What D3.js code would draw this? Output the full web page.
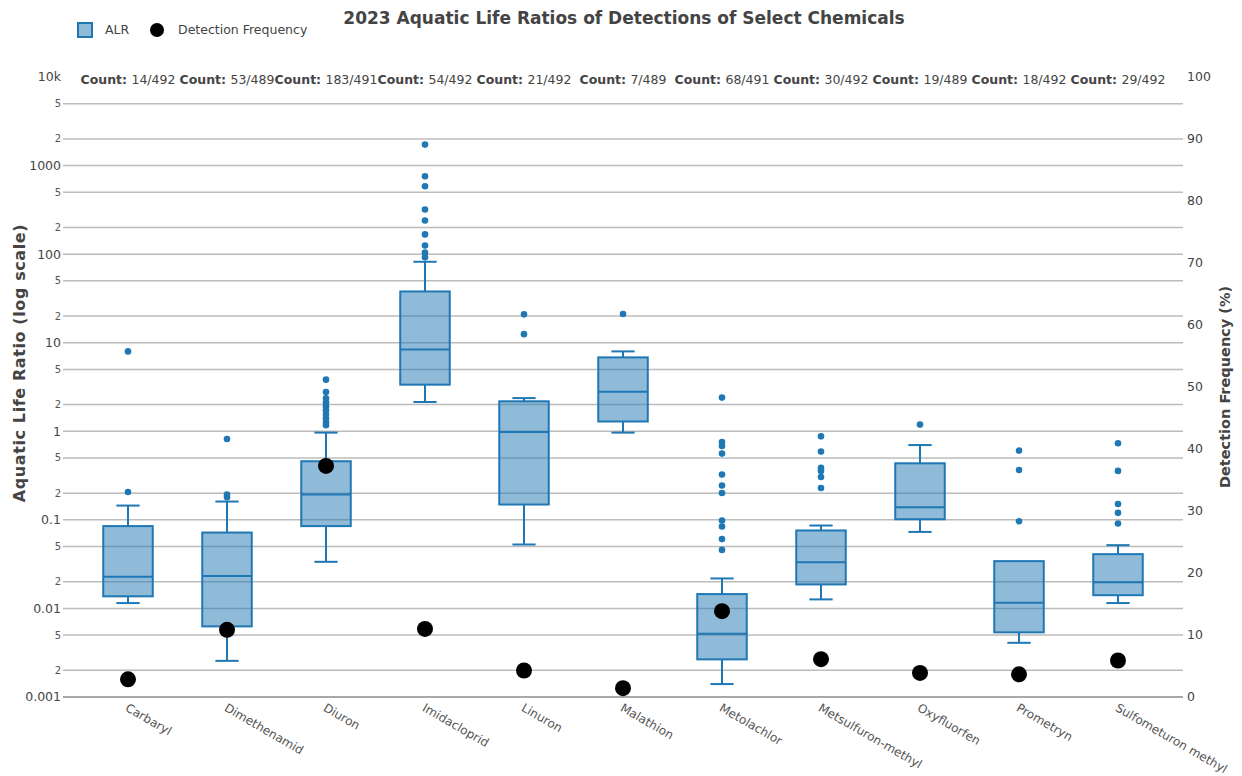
<!DOCTYPE html>
<html>
<head>
<meta charset="utf-8">
<script src="https://cdn.jsdelivr.net/npm/d3@7"></script>
<style>
  body { margin: 0; background: #fff; }
  svg { font-family: "DejaVu Sans", Verdana, sans-serif; }
</style>
</head>
<body>
<div id="chart"></div>
<script>
// values
const categories = ['Carbaryl', 'Dimethenamid', 'Diuron', 'Imidacloprid', 'Linuron', 'Malathion',
  'Metolachlor', 'Metsulfuron-methyl', 'Oxyfluorfen', 'Prometryn', 'Sulfometuron methyl'];
const countLabels = ['14/492', '53/489', '183/491', '54/492', '21/492', '7/489',
  '68/491', '30/492', '19/489', '18/492', '29/492'];
const detectionFreq = [2.85, 10.84, 37.27, 10.98, 4.27, 1.43, 13.85, 6.10, 3.89, 3.66, 5.89];

const lowerWhisker = [0.0115, 0.00256, 0.0336, 2.14, 0.0527, 0.966, 0.0014, 0.01265, 0.0731, 0.00409, 0.0115];
const q1 = [0.0137, 0.00627, 0.085, 3.36, 0.149, 1.29, 0.00266, 0.01866, 0.1016, 0.00537, 0.0141];
const median = [0.0228, 0.0232, 0.193, 8.4, 0.982, 2.80, 0.00518, 0.0333, 0.139, 0.01156, 0.0198];
const q3 = [0.085, 0.0719, 0.459, 37.9, 2.18, 6.83, 0.01452, 0.0759, 0.435, 0.0342, 0.041];
const upperWhisker = [0.145, 0.161, 0.966, 82, 2.37, 7.98, 0.0218, 0.0863, 0.699, 0.0342, 0.0518];
const outliers = [
  [0.2066, 7.98],
  [0.18, 0.193, 0.818],
  [1.17, 1.26, 1.40, 1.55, 1.73, 1.91, 2.12, 2.36, 2.77, 3.83],
  [92, 104, 125, 167, 240, 319, 584, 757, 1726],
  [12.5, 20.9],
  [21.1],
  [0.0458, 0.0606, 0.0841, 0.0984, 0.201, 0.244, 0.325, 0.560, 0.682, 0.757, 2.40],
  [0.229, 0.305, 0.356, 0.386, 0.590, 0.877],
  [1.19],
  [0.0966, 0.366, 0.605],
  [0.091, 0.120, 0.151, 0.357, 0.733]
];

const majorTicks = [0.001, 0.01, 0.1, 1, 10, 100, 1000, 10000];
const majorLabels = ['0.001', '0.01', '0.1', '1', '10', '100', '1000', '10k'];
const minorSteps = [2, 5];
const rightTicks = [0, 10, 20, 30, 40, 50, 60, 70, 80, 90, 100];

const width = 1242, height = 776;
const plot = { left: 63, right: 1183, top: 77, bottom: 697 };
const blue = '#1f77b4';

const svg = d3.select('#chart').append('svg')
  .attr('width', width)
  .attr('height', height);

const x = d3.scaleBand()
  .domain(categories)
  .range([78.5, 1167.5])
  .paddingInner(0);

const y = d3.scaleLog()
  .domain([0.001, 10000])
  .range([plot.bottom, plot.top]);

const yRight = d3.scaleLinear()
  .domain([0, 100])
  .range([plot.bottom, plot.top]);

const minorTicks = [];
majorTicks.slice(0, -1).forEach((t) => {
  minorSteps.forEach((s) => minorTicks.push(t * s));
});

// grid
const grid = svg.append('g');
grid.selectAll('line')
  .data(majorTicks.slice(1, -1).concat(minorTicks))
  .enter()
  .append('line')
    .attr('x1', plot.left)
    .attr('x2', plot.right)
    .attr('y1', (d) => y(d))
    .attr('y2', (d) => y(d))
    .attr('stroke', '#bcbcbc')
    .attr('stroke-width', 1.5);

grid.append('line')
  .attr('x1', plot.left)
  .attr('x2', plot.right)
  .attr('y1', y(0.001))
  .attr('y2', y(0.001))
  .attr('stroke', '#a8a8a8')
  .attr('stroke-width', 2);

// left axis
const leftAxis = svg.append('g')
  .attr('transform', 'translate(' + (plot.left - 2) + ',0)');

leftAxis.selectAll('.major')
  .data(majorTicks)
  .enter()
  .append('text')
    .attr('class', 'major')
    .attr('x', 0)
    .attr('y', (d) => y(d))
    .attr('dy', '0.35em')
    .attr('text-anchor', 'end')
    .attr('fill', '#444')
    .style('font-size', '12.5px')
    .text((d, i) => majorLabels[i]);

leftAxis.selectAll('.minor')
  .data(minorTicks)
  .enter()
  .append('text')
    .attr('class', 'minor')
    .attr('x', 0)
    .attr('y', (d) => y(d))
    .attr('dy', '0.35em')
    .attr('text-anchor', 'end')
    .attr('fill', '#555')
    .style('font-size', '10px')
    .text((d) => String(Math.round(d / Math.pow(10, Math.floor(Math.log10(d) + 1e-9)))));

// right axis
svg.append('g')
  .attr('transform', 'translate(' + (plot.right + 4) + ',0)')
  .selectAll('text')
  .data(rightTicks)
  .enter()
  .append('text')
    .attr('x', 0)
    .attr('y', (d) => yRight(d))
    .attr('dy', '0.35em')
    .attr('fill', '#444')
    .style('font-size', '12.5px')
    .text((d) => d);

// x labels
svg.append('g')
  .selectAll('text')
  .data(categories)
  .enter()
  .append('text')
    .attr('transform', (d) => 'translate(' + (x(d) + x.bandwidth() / 2) + ',' + (plot.bottom + 7) + ') rotate(30)')
    .attr('dy', '0.6em')
    .attr('fill', '#555')
    .style('font-size', '12px')
    .text((d) => d);

// boxes
const boxWidth = x.bandwidth() * 0.5;
const capWidth = boxWidth * 0.47;
const boxes = svg.append('g')
  .selectAll('g')
  .data(categories)
  .enter()
  .append('g')
    .attr('transform', (d) => 'translate(' + (x(d) + x.bandwidth() / 2) + ',0)');

boxes.append('line')
  .attr('x1', 0).attr('x2', 0)
  .attr('y1', (d, i) => y(lowerWhisker[i]))
  .attr('y2', (d, i) => y(q1[i]))
  .attr('stroke', blue).attr('stroke-width', 2);

boxes.append('line')
  .attr('x1', 0).attr('x2', 0)
  .attr('y1', (d, i) => y(q3[i]))
  .attr('y2', (d, i) => y(upperWhisker[i]))
  .attr('stroke', blue).attr('stroke-width', 2);

boxes.append('line')
  .attr('x1', -capWidth / 2).attr('x2', capWidth / 2)
  .attr('y1', (d, i) => y(lowerWhisker[i]))
  .attr('y2', (d, i) => y(lowerWhisker[i]))
  .attr('stroke', blue).attr('stroke-width', 2);

boxes.filter((d, i) => upperWhisker[i] > q3[i])
  .append('line')
    .attr('x1', -capWidth / 2).attr('x2', capWidth / 2)
    .attr('y1', (d) => y(upperWhisker[categories.indexOf(d)]))
    .attr('y2', (d) => y(upperWhisker[categories.indexOf(d)]))
    .attr('stroke', blue).attr('stroke-width', 2);

boxes.append('rect')
  .attr('x', -boxWidth / 2)
  .attr('width', boxWidth)
  .attr('y', (d, i) => y(q3[i]))
  .attr('height', (d, i) => y(q1[i]) - y(q3[i]))
  .attr('fill', 'rgba(31,119,180,0.5)')
  .attr('stroke', blue)
  .attr('stroke-width', 2);

boxes.append('line')
  .attr('x1', -boxWidth / 2).attr('x2', boxWidth / 2)
  .attr('y1', (d, i) => y(median[i]))
  .attr('y2', (d, i) => y(median[i]))
  .attr('stroke', blue).attr('stroke-width', 2);

boxes.each(function(d, i) {
  d3.select(this).selectAll('circle')
    .data(outliers[i])
    .enter()
    .append('circle')
      .attr('cx', 0)
      .attr('cy', (v) => y(v))
      .attr('r', 3.3)
      .attr('fill', blue);
});

// detection frequency dots
svg.append('g')
  .selectAll('circle')
  .data(categories)
  .enter()
  .append('circle')
    .attr('cx', (d) => x(d) + x.bandwidth() / 2)
    .attr('cy', (d, i) => yRight(detectionFreq[i]))
    .attr('r', 8)
    .attr('fill', '#000');

// count annotations
const counts = svg.append('g')
  .selectAll('text')
  .data(categories)
  .enter()
  .append('text')
    .attr('x', (d) => x(d) + x.bandwidth() / 2)
    .attr('y', plot.top + 3)
    .attr('dy', '0.35em')
    .attr('text-anchor', 'middle')
    .attr('fill', '#444')
    .style('font-size', '12.5px');
counts.append('tspan').style('font-weight', 'bold').text('Count: ');
counts.append('tspan').text((d, i) => countLabels[i]);

// title
svg.append('text')
  .attr('x', 624)
  .attr('y', 18)
  .attr('dy', '0.35em')
  .attr('text-anchor', 'middle')
  .attr('fill', '#444')
  .style('font-size', '17px')
  .style('font-weight', 'bold')
  .text('2023 Aquatic Life Ratios of Detections of Select Chemicals');

// axis titles
svg.append('text')
  .attr('transform', 'translate(19,363) rotate(-90)')
  .attr('dy', '0.35em')
  .attr('text-anchor', 'middle')
  .attr('fill', '#444')
  .style('font-size', '16px')
  .style('font-weight', 'bold')
  .style('letter-spacing', '0.6px')
  .text('Aquatic Life Ratio (log scale)');

svg.append('text')
  .attr('transform', 'translate(1225,' + ((plot.top + plot.bottom) / 2) + ') rotate(-90)')
  .attr('dy', '0.35em')
  .attr('text-anchor', 'middle')
  .attr('fill', '#444')
  .style('font-size', '14.5px')
  .style('font-weight', 'bold')
  .text('Detection Frequency (%)');

// legend
const legend = svg.append('g');
legend.append('rect')
  .attr('x', 78).attr('y', 23)
  .attr('width', 14).attr('height', 14)
  .attr('fill', 'rgba(31,119,180,0.5)')
  .attr('stroke', blue)
  .attr('stroke-width', 2);
legend.append('text')
  .attr('x', 105).attr('y', 30)
  .attr('dy', '0.35em')
  .attr('fill', '#444')
  .style('font-size', '12.5px')
  .text('ALR');
legend.append('circle')
  .attr('cx', 157).attr('cy', 30)
  .attr('r', 7)
  .attr('fill', '#000');
legend.append('text')
  .attr('x', 178).attr('y', 30)
  .attr('dy', '0.35em')
  .attr('fill', '#444')
  .style('font-size', '12.5px')
  .text('Detection Frequency');
</script>
</body>
</html>
